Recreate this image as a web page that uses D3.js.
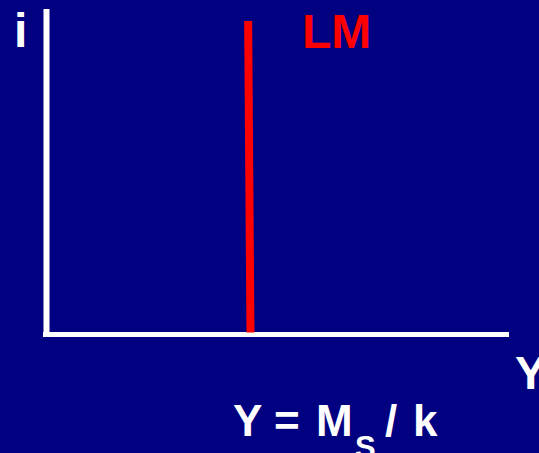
<!DOCTYPE html>
<html><head><meta charset="utf-8">
<script src="https://cdn.jsdelivr.net/npm/d3@7"></script>
<style>html,body{margin:0;padding:0;background:#000080;overflow:hidden}svg{display:block}</style>
</head><body>
<script>
// Data (in abstract chart units: Y output on x-axis, i interest rate on y-axis)
const lmY = [43.6, 44.1];      // LM curve Y values (top, bottom)
const lmI = [96.3, 0.6];       // corresponding interest rates
const axisLabels = ["i", "Y"];
const curveLabels = ["LM"];
const equationParts = ["Y", "=", "M", "S", "/", "k"];

const W = 539, H = 453;
const svg = d3.select("body").append("svg").attr("width", W).attr("height", H);
svg.append("rect").attr("width", W).attr("height", H).attr("fill", "#000080");

const x = d3.scaleLinear().domain([0, 100]).range([46.5, 509]);
const y = d3.scaleLinear().domain([0, 100]).range([334.5, 9]);

// axes
svg.append("line").attr("x1", x(0)).attr("x2", x(0)).attr("y1", y(100)).attr("y2", y(0) - 1)
  .attr("stroke", "#fff").attr("stroke-width", 6);
svg.append("line").attr("x1", x(0) - 3.5).attr("x2", x(100)).attr("y1", y(0)).attr("y2", y(0))
  .attr("stroke", "#fff").attr("stroke-width", 5);

// LM curve
const lmData = lmY.map((v, k) => ({Y: v, i: lmI[k]}));
svg.append("path").datum(lmData)
  .attr("d", d3.line().x(d => x(d.Y)).y(d => y(d.i)))
  .attr("stroke", "#ff0000").attr("stroke-width", 8).attr("fill", "none");

const font = "'Liberation Sans', Arial, sans-serif";
function txt(t, px, py, size, color, anchor) {
  return svg.append("text").attr("x", px).attr("y", py).attr("font-family", font)
    .attr("font-weight", "bold").attr("font-size", size).attr("fill", color)
    .attr("text-anchor", anchor || "start").text(t);
}
txt(axisLabels[0], 14, 47, 48, "#fff");
txt(curveLabels[0], 302, 48, 48, "#ff0000");
txt(axisLabels[1], 515, 389, 47, "#fff");

// equation Y = M_S / k
const eqX = [233, 274, 316, 355, 385, 413];
const eqY = [436, 436, 436, 458, 436, 436];
const eqS = [44, 44, 44, 31, 44, 44];
const eq = svg.append("text").attr("font-family", font).attr("font-weight", "bold").attr("fill", "#fff");
equationParts.forEach((p, k) => {
  eq.append("tspan").attr("x", eqX[k]).attr("y", eqY[k]).attr("font-size", eqS[k]).text(p);
});
</script>
</body></html>
